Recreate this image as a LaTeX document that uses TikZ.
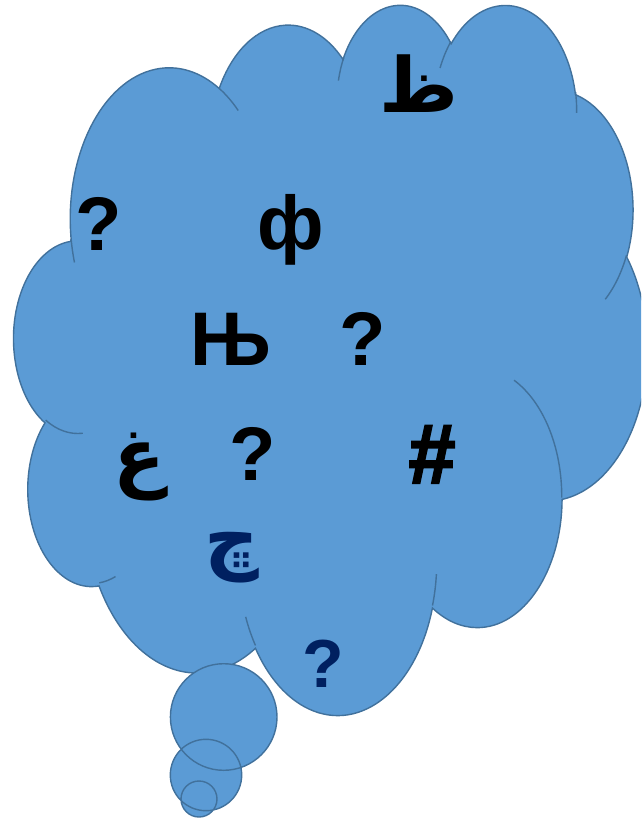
\documentclass[tikz,border=0pt]{standalone}
\usepackage{fontspec}
\setmainfont{Liberation Sans}
\newfontfamily\arabicfont[Script=Arabic]{DejaVu Sans}
\newfontfamily\heavyfont[FakeBold=2.5]{Liberation Sans Bold}
\usepackage{xcolor}
\TeXXeTstate=1
\definecolor{cloudBlue}{RGB}{91,155,213}
\definecolor{cloudEdge}{RGB}{65,113,156}
\definecolor{navyText}{RGB}{0,32,96}
% one bump of the cloud: x radius, y radius, start angle, sweep (visual angles)
\newcommand{\cloudarc}[4]{%
    \pgfextra{%
        \pgfmathparse{atan2((#1)*sin(#3),(#2)*cos(#3))}\xdef\arcStart{\pgfmathresult}%
        \pgfmathparse{atan2((#1)*sin(#3+#4),(#2)*cos(#3+#4))}\xdef\arcEnd{\pgfmathresult}%
        \pgfmathparse{Mod((\arcEnd)-(\arcStart),360)}\xdef\arcSweep{\pgfmathresult}%
    }
    arc[start angle=\arcStart, delta angle=\arcSweep, x radius=#1, y radius=#2]}
\tikzset{
    cloudshape/.style={
        fill=cloudBlue,
        draw=cloudEdge,
        line width=1.4pt
    },
    wrinkle/.style={draw=cloudEdge, line width=1.4pt},
    glyph/.style={
        inner sep=0pt,
        anchor=base,
        text=black,
        font=\fontsize{76}{80}\selectfont\bfseries
    },
    arabglyph/.style={glyph, font=\fontsize{76}{80}\selectfont\arabicfont\bfseries}
}
\begin{document}
\begin{tikzpicture}[x=1pt, y=-1pt]
    \useasboundingbox (0,0) rectangle (641,819);
    \clip (0,0) rectangle (641,819);

    \begin{scope}[shift={(14,3)}, x=1.4653pt, y=-1.6435pt]
        \path[cloudshape] (39.00,143.70)
            \cloudarc{67.53}{91.90}{-190.4875}{123.7805}
            \cloudarc{53.33}{72.67}{-144.1024}{89.9452}
            \cloudarc{43.65}{59.45}{-145.8079}{99.7230}
            \cloudarc{48.57}{65.95}{-130.9861}{117.2417}
            \cloudarc{53.33}{72.73}{-78.7089}{109.0269}
            \cloudarc{67.75}{92.20}{-46.2673}{130.2690}
            \cloudarc{57.85}{78.67}{0.6250}{114.0333}
            \cloudarc{67.52}{92.15}{22.4516}{115.1726}
            \cloudarc{77.20}{105.43}{66.2426}{75.7110}
            \cloudarc{43.60}{59.18}{-274.9421}{146.7356}
            \cloudarc{43.45}{59.45}{-246.8285}{152.5189}
            -- cycle;
    \end{scope}

    % tail bubbles
    \path[cloudshape] (223.7,717) circle[radius=53.3]
        (206,775) circle[radius=35.7]
        (199,799) circle[radius=18];

    \begin{scope}[shift={(14,3)}, x=1.4653pt, y=-1.6435pt]
        \path[wrinkle]
            (46.93,261.77) \cloudarc{43.45}{59.45}{86.7420}{26.4295}
            (69.28,348.99) \cloudarc{43.60}{59.18}{73.6105}{11.4475}
            (164.78,390.90) \cloudarc{67.52}{92.15}{137.6242}{14.0811}
            (288.27,347.51) \cloudarc{67.52}{92.15}{6.4533}{15.9984}
            (341.29,229.54) \cloudarc{57.85}{78.67}{-70.2924}{70.9174}
            (417.98,153.54) \cloudarc{53.33}{72.73}{30.3180}{27.7515}
            (383.24,54.26) \cloudarc{48.57}{65.95}{-13.7443}{14.8589}
            (290.78,39.52) \cloudarc{48.57}{65.95}{-149.1815}{18.1954}
            (221.41,47.20) \cloudarc{43.65}{59.45}{-163.4943}{17.6864}
            (140.00,51.92) \cloudarc{67.53}{91.90}{-66.7070}{12.3194}
            (41.27,157.89) \cloudarc{67.53}{91.90}{157.6544}{11.8582};
    \end{scope}

    \node[arabglyph] (zah) at (419,112) {\beginR ظ\endR};
    \node[glyph] (askA) at (99,250) {?};
    \node[glyph] (ef) at (291,249) {ф};
    \node[glyph] (nje) at (231,365) {Њ};
    \node[glyph] (askB) at (363,365) {?};
    \node[arabglyph] (ghain) at (139,482) {\beginR غ\endR};
    \node[glyph] (askC) at (253,480) {?};
    \node[glyph, font=\fontsize{84}{88}\selectfont\heavyfont] (hash) at (432,483) {\#};
    \node[arabglyph, text=navyText] (tcheh) at (232,564) {\beginR ڇ\endR};
    \node[glyph, text=navyText, font=\fontsize{68}{72}\selectfont\bfseries] (askD) at (323,687) {?};
\end{tikzpicture}
\end{document}
